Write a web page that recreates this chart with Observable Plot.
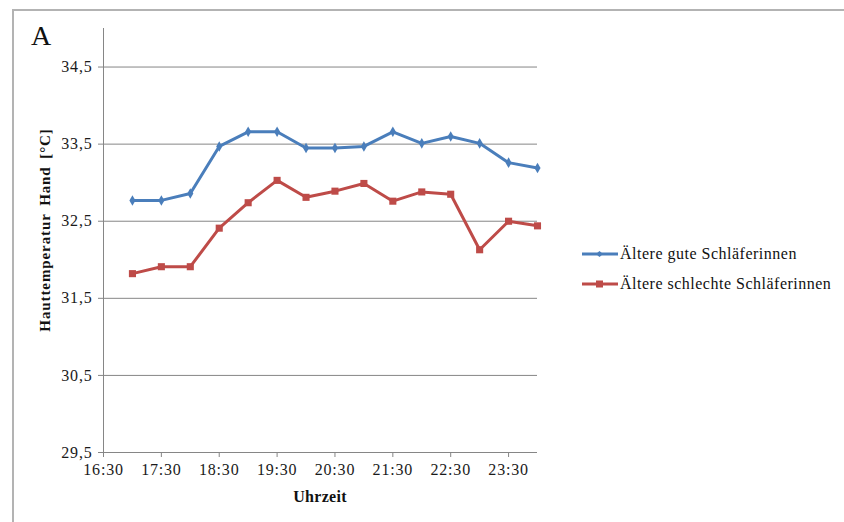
<!DOCTYPE html>
<html>
<head>
<meta charset="utf-8">
<script src="https://cdn.jsdelivr.net/npm/d3@7"></script>
<script src="https://cdn.jsdelivr.net/npm/@observablehq/plot@0.6"></script>
<style>
  html, body { margin: 0; padding: 0; background: #fff; }
  #wrap { position: relative; width: 844px; height: 522px; overflow: hidden; font-family: "Liberation Serif", serif; }
  #frame { position: absolute; left: 12px; top: 9px; width: 840px; height: 520px; border-top: 2px solid #b3b3b3; border-left: 2px solid #b3b3b3; }
  #chart { position: absolute; left: 0; top: 0; }
  #chart svg text { letter-spacing: 0.8px; }
  .lbl { position: absolute; color: #111; white-space: nowrap; }
  #panel { left: 31px; top: 22px; font-size: 28px; line-height: 1; }
  #ytitle { left: 45px; top: 230px; font-size: 15px; letter-spacing: 0.9px; font-weight: bold; transform: translate(-50%, -50%) rotate(-90deg); word-spacing: 3px; }
  #xtitle { left: 320px; top: 497px; font-size: 16px; letter-spacing: 0.3px; font-weight: bold; transform: translate(-50%, -50%); }
  .leg { position: absolute; left: 582px; font-size: 16px; letter-spacing: 0.5px; color: #111; display: flex; align-items: center; white-space: nowrap; }
  .leg svg { margin-right: 2px; }
</style>
</head>
<body>
<div id="wrap">
  <div id="frame"></div>
  <div id="chart"></div>
  <div class="lbl" id="panel">A</div>
  <div class="lbl" id="ytitle">Hauttemperatur  Hand  [°C]</div>
  <div class="lbl" id="xtitle">Uhrzeit</div>
  <div id="legend"></div>
</div>
<script>
// Measurement times (every 30 minutes)
const times = ["17:00","17:30","18:00","18:30","19:00","19:30","20:00","20:30","21:00","21:30","22:00","22:30","23:00","23:30","24:00"];
// Series values (°C)
const gute = [32.77, 32.77, 32.86, 33.47, 33.66, 33.66, 33.45, 33.45, 33.47, 33.66, 33.51, 33.60, 33.51, 33.26, 33.19];
const schlechte = [31.82, 31.91, 31.91, 32.41, 32.74, 33.03, 32.81, 32.89, 32.99, 32.76, 32.88, 32.85, 32.13, 32.50, 32.44];
// Series names
const seriesNames = ["Ältere gute Schläferinnen", "Ältere schlechte Schläferinnen"];
const seriesColors = ["#4a7ebb", "#be4b48"];
// Tick labels
const xTickLabels = ["16:30","17:30","18:30","19:30","20:30","21:30","22:30","23:30"];
const yTicks = [29.5, 30.5, 31.5, 32.5, 33.5, 34.5];

const toHours = s => { const [h, m] = s.split(":").map(Number); return h + m / 60; };
const fmtTime = v => { const h = Math.floor(v + 1e-9); const m = Math.round((v - h) * 60); return `${h}:${String(m).padStart(2, "0")}`; };

const data = [];
times.forEach((t, i) => {
  data.push({ t: toHours(t), v: gute[i], s: seriesNames[0] });
  data.push({ t: toHours(t), v: schlechte[i], s: seriesNames[1] });
});
const d1 = data.filter(d => d.s === seriesNames[0]);
const d2 = data.filter(d => d.s === seriesNames[1]);

const chart = Plot.plot({
  width: 844,
  height: 522,
  marginLeft: 103,
  marginRight: 307,
  marginTop: 28,
  marginBottom: 70,
  style: { fontFamily: "Liberation Serif", background: "transparent", overflow: "visible" },
  x: { domain: [16.5, 24] },
  y: { domain: [29.5, 35] },
  marks: [
    Plot.ruleY(yTicks.slice(1), { stroke: "#868686", strokeWidth: 1 }),
    Plot.ruleY([29.5], { stroke: "#868686", strokeWidth: 1 }),
    Plot.ruleX([16.5], { y1: 29.5, y2: 35, stroke: "#868686", strokeWidth: 1 }),
    Plot.axisY({ ticks: yTicks, tickFormat: d => d.toFixed(1).replace(".", ","), tickSize: 5, tickPadding: 6, stroke: "#868686", fill: "#1a1a1a", fontSize: 16, label: null }),
    Plot.axisX({ ticks: xTickLabels.map(toHours), tickFormat: fmtTime, tickSize: 5, tickPadding: 6, stroke: "#868686", fill: "#1a1a1a", fontSize: 16, label: null }),
    Plot.line(d1, { x: "t", y: "v", stroke: seriesColors[0], strokeWidth: 3 }),
    Plot.dot(d1, { x: "t", y: "v", symbol: "diamond", r: 3.2, fill: seriesColors[0] }),
    Plot.line(d2, { x: "t", y: "v", stroke: seriesColors[1], strokeWidth: 3 }),
    Plot.dot(d2, { x: "t", y: "v", symbol: "square", r: 4, fill: seriesColors[1] })
  ]
});
document.getElementById("chart").appendChild(chart);

// Legend
const legend = document.getElementById("legend");
const legendY = [254, 284];
seriesNames.forEach((name, i) => {
  const item = document.createElement("div");
  item.className = "leg";
  item.style.top = (legendY[i] - 10) + "px";
  item.style.height = "20px";
  const sym = i === 0
    ? `<path d="M17.5 -3 L21 0 L17.5 3 L14 0 Z" fill="${seriesColors[i]}"/>`
    : `<rect x="14" y="-3.5" width="7" height="7" fill="${seriesColors[i]}"/>`;
  item.innerHTML = `<svg width="36" height="20" viewBox="0 -10 36 20"><line x1="0" x2="36" y1="0" y2="0" stroke="${seriesColors[i]}" stroke-width="3"/>${sym}</svg><span>${name}</span>`;
  legend.appendChild(item);
});
</script>
</body>
</html>
